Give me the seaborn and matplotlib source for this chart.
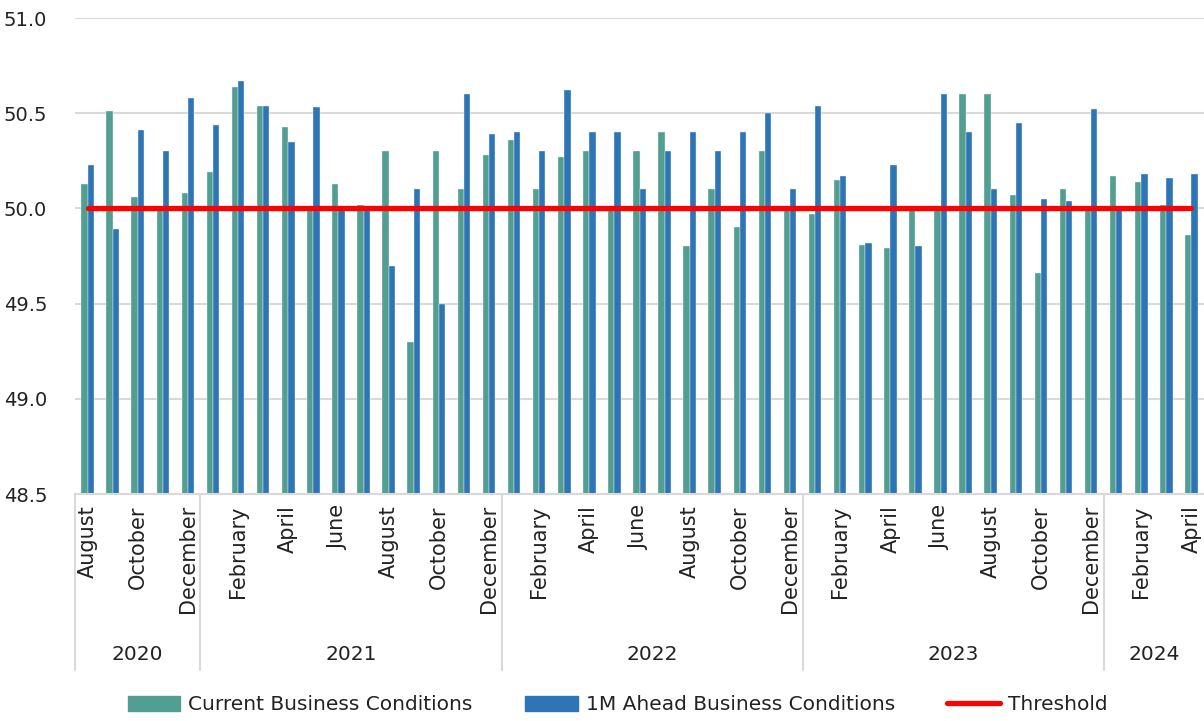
import pandas as pd
import matplotlib.pyplot as plt
import matplotlib.patches as mpatches
import matplotlib.lines as mlines
import matplotlib.transforms as mtransforms
import seaborn as sns

# months Aug 2020 .. Apr 2024
years = ["2020"] * 5 + ["2021"] * 12 + ["2022"] * 12 + ["2023"] * 12 + ["2024"] * 4
month_names = ["January", "February", "March", "April", "May", "June", "July",
               "August", "September", "October", "November", "December"]
months = month_names[7:] + month_names * 3 + month_names[:4]

current = [50.13, 50.51, 50.06, 50.00, 50.08,
           50.19, 50.64, 50.54, 50.43, 50.00, 50.13, 50.02, 50.30, 49.30, 50.30, 50.10, 50.28,
           50.36, 50.10, 50.27, 50.30, 50.00, 50.30, 50.40, 49.80, 50.10, 49.90, 50.30, 50.00,
           49.97, 50.15, 49.81, 49.79, 49.99, 50.00, 50.60, 50.60, 50.07, 49.66, 50.10, 50.00,
           50.17, 50.14, 50.02, 49.86]
ahead = [50.23, 49.89, 50.41, 50.30, 50.58,
         50.44, 50.67, 50.54, 50.35, 50.53, 50.00, 50.01, 49.70, 50.10, 49.50, 50.60, 50.39,
         50.40, 50.30, 50.62, 50.40, 50.40, 50.10, 50.30, 50.40, 50.30, 50.40, 50.50, 50.10,
         50.54, 50.17, 49.82, 50.23, 49.80, 50.60, 50.40, 50.10, 50.45, 50.05, 50.04, 50.52,
         50.00, 50.18, 50.16, 50.18]
threshold = 50.0

GREEN = "#529E91"
BLUE = "#2E75B6"
GRID = "#D9D9D9"

periods = [y + "-" + m for y, m in zip(years, months)]
df = pd.DataFrame({
    "period": periods * 2,
    "value": current + ahead,
    "series": ["Current Business Conditions"] * len(periods) + ["1M Ahead Business Conditions"] * len(periods),
})

sns.set_style("white")
plt.rcParams["font.family"] = ["DejaVu Sans"]

fig = plt.figure(figsize=(12.04, 7.21), dpi=100)
ax = fig.add_axes([75 / 1204, 1 - 494 / 721, 1 - 75 / 1204, (494 - 18) / 721])

sns.barplot(data=df, x="period", y="value", hue="series", order=periods,
            palette=[GREEN, BLUE], saturation=1, width=0.5, ax=ax, legend=False,
            edgecolor="#E8F0F8", linewidth=0.3)

n = len(periods)
sns.lineplot(x=list(range(n)), y=[threshold] * n, color="#FF0000", linewidth=3.8,
             ax=ax, legend=False, solid_capstyle="round", zorder=5)

ax.set_ylim(48.5, 51.0)
ax.set_xlim(-0.5, n - 0.5)
ax.set_yticks([48.5, 49.0, 49.5, 50.0, 50.5, 51.0])
ax.set_yticklabels(["48.5", "49.0", "49.5", "50.0", "50.5", "51.0"], fontsize=14)
ax.yaxis.grid(True, color=GRID, linewidth=1.5)
ax.set_axisbelow(True)
for s in ["top", "right", "left"]:
    ax.spines[s].set_visible(False)
ax.spines["bottom"].set_color(GRID)
ax.spines["bottom"].set_linewidth(1.5)
ax.tick_params(axis="y", length=0, pad=20, labelcolor="#222222")
ax.set_xlabel("")
ax.set_ylabel("")

# month labels every other category
tick_pos = list(range(0, n, 2))
ax.set_xticks(tick_pos)
ax.set_xticklabels([months[i] for i in tick_pos], rotation=90, fontsize=15, color="#222222")
ax.tick_params(axis="x", length=0, pad=8)

# year groups
trans = mtransforms.blended_transform_factory(ax.transData, ax.transAxes)
bounds = [0]
for i in range(1, n):
    if years[i] != years[i - 1]:
        bounds.append(i)
bounds.append(n)
ybot = -(670 - 494) / 476
for b in bounds[:-1]:
    ax.plot([b - 0.5, b - 0.5], [0, ybot], transform=trans, color=GRID,
            linewidth=1.5, clip_on=False)
for a, b in zip(bounds[:-1], bounds[1:]):
    ax.text((a + b - 1) / 2, -(655 - 494) / 476, years[a], transform=trans,
            ha="center", va="center", fontsize=14.5, color="#222222")

handles = [
    mpatches.Patch(color=GREEN, label="Current Business Conditions"),
    mpatches.Patch(color=BLUE, label="1M Ahead Business Conditions"),
    mlines.Line2D([], [], color="#FF0000", linewidth=3.8, solid_capstyle="round", label="Threshold"),
]
fig.legend(handles=handles, loc="center", bbox_to_anchor=(0.513, 1 - 705 / 721), ncol=3,
           frameon=False, fontsize=14.5, handlelength=2.6, handleheight=0.75,
           columnspacing=2.6, handletextpad=0.4, labelcolor="#222222")

fig.savefig("out.png", dpi=100)
